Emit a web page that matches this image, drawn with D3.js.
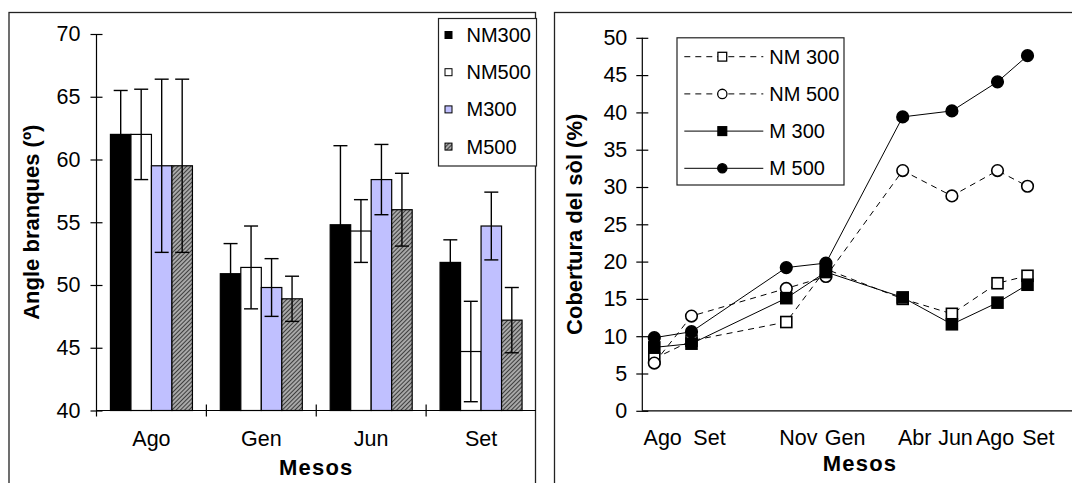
<!DOCTYPE html>
<meta charset="utf-8">
<style>
body { margin: 0; background: #fff; }
svg { font-family: "Liberation Sans", Arial, sans-serif; }
.axis path, .axis line { stroke: #000; stroke-width: 1.2px; }
.axis text { font-size: 21.5px; fill: #000; }
.title { font-size: 22px; font-weight: bold; }
.legend text { font-size: 20px; }
.panel { fill: none; stroke: #222; stroke-width: 1.3px; }
</style>
<body>
<script src="https://cdn.jsdelivr.net/npm/d3@7"></script>
<script>

// ---- left chart data (branch angle, mean and error) ----
var months = ["Ago", "Gen", "Jun", "Set"];
var treatments = ["NM300", "NM500", "M300", "M500"];
var nm300Angle = [62.0, 50.9, 54.8, 51.8];
var nm300Err   = [3.5, 2.4, 6.3, 1.8];
var nm500Angle = [62.0, 51.4, 54.3, 44.7];
var nm500Err   = [3.6, 3.3, 2.5, 4.0];
var m300Angle  = [59.5, 49.8, 58.4, 54.7];
var m300Err    = [6.9, 2.3, 2.8, 2.7];
var m500Angle  = [59.5, 48.9, 56.0, 47.2];
var m500Err    = [6.9, 1.8, 2.9, 2.6];
var angleTicks = [40, 45, 50, 55, 60, 65, 70];

// ---- right chart data (soil cover %) ----
var coverMonths = ["Ago", "Set", "Nov", "Gen", "Abr", "Jun", "Ago", "Set"];
var coverDay    = [0, 31, 110, 143, 207, 248, 286, 311];   // sampling day
var labelDay    = [7, 46, 120, 159, 217, 251, 284, 320];   // where the month text sits
var nm300Cover  = [7.0, 9.4, 11.9, 19.0, 15.0, 13.0, 17.1, 18.1];
var nm500Cover  = [6.4, 12.7, 16.4, 18.0, 32.2, 28.8, 32.2, 30.1];
var m300Cover   = [8.5, 9.0, 15.1, 18.6, 15.2, 11.6, 14.5, 16.9];
var m500Cover   = [9.8, 10.6, 19.2, 19.8, 39.4, 40.2, 44.1, 47.6];
var coverTicks  = [0, 5, 10, 15, 20, 25, 30, 35, 40, 45, 50];
var coverNames  = ["NM 300", "NM 500", "M 300", "M 500"];

var svg = d3.select("body").append("svg")
    .attr("width", 1072)
    .attr("height", 483);

// hatch for M500 bars
var defs = svg.append("defs");
var pat = defs.append("pattern")
    .attr("id", "hatch")
    .attr("patternUnits", "userSpaceOnUse")
    .attr("width", 3).attr("height", 3)
    .attr("patternTransform", "rotate(45)");
pat.append("rect").attr("width", 3).attr("height", 3).attr("fill", "#a8a8a8");
pat.append("line").attr("x1", 0).attr("y1", 0).attr("x2", 0).attr("y2", 3)
    .attr("stroke", "#222").attr("stroke-width", 1.6);

var barFill = ["#000", "#fff", "#c0c0ff", "url(#hatch)"];

// panel frames
svg.append("rect").attr("class", "panel").attr("x", 9).attr("y", 12.5).attr("width", 526.5).attr("height", 490);
svg.append("rect").attr("class", "panel").attr("x", 554.5).attr("y", 12.5).attr("width", 540).attr("height", 490);

// ================= left: bar chart =================
var L = {left: 96.5, right: 536, top: 34, bottom: 410.5};

var x0 = d3.scaleBand().domain(months).range([L.left, L.right]);
var x1 = d3.scaleBand().domain(treatments).range([0, x0.bandwidth()]).paddingOuter(0.68);
var yA = d3.scaleLinear().domain([40, 70]).range([L.bottom, L.top]);

var barData = [];
var means = [nm300Angle, nm500Angle, m300Angle, m500Angle];
var errs = [nm300Err, nm500Err, m300Err, m500Err];
months.forEach(function(m, i) {
  treatments.forEach(function(t, j) {
    barData.push({month: m, t: t, j: j, v: means[j][i], e: errs[j][i]});
  });
});

var left = svg.append("g");

left.selectAll("rect.bar")
    .data(barData)
  .enter().append("rect")
    .attr("class", "bar")
    .attr("x", function(d) { return x0(d.month) + x1(d.t); })
    .attr("width", x1.bandwidth())
    .attr("y", function(d) { return yA(d.v); })
    .attr("height", function(d) { return yA(40) - yA(d.v); })
    .attr("fill", function(d) { return barFill[d.j]; })
    .attr("stroke", "#000")
    .attr("stroke-width", 1.2);

// error bars
var eb = left.selectAll("g.err")
    .data(barData)
  .enter().append("g")
    .attr("class", "err")
    .attr("transform", function(d) { return "translate(" + (x0(d.month) + x1(d.t) + x1.bandwidth() / 2) + ",0)"; })
    .attr("stroke", "#000")
    .attr("stroke-width", 1.4);
eb.append("line")
    .attr("y1", function(d) { return yA(d.v - d.e); })
    .attr("y2", function(d) { return yA(d.v + d.e); });
eb.append("line").attr("x1", -7).attr("x2", 7)
    .attr("y1", function(d) { return yA(d.v + d.e); })
    .attr("y2", function(d) { return yA(d.v + d.e); });
eb.append("line").attr("x1", -7).attr("x2", 7)
    .attr("y1", function(d) { return yA(d.v - d.e); })
    .attr("y2", function(d) { return yA(d.v - d.e); });

// y axis
var ay = left.append("g")
    .attr("class", "axis")
    .attr("transform", "translate(" + L.left + ",0)")
    .call(d3.axisLeft(yA).tickValues(angleTicks).tickSize(6).tickPadding(10));
ay.selectAll(".tick line").attr("x2", 6).attr("x1", -6);
ay.select(".domain").attr("d", "M0," + L.top + "V" + (L.bottom + 6));

// x axis
var ax = left.append("g")
    .attr("class", "axis")
    .attr("transform", "translate(0," + L.bottom + ")")
    .call(d3.axisBottom(x0).tickSize(0).tickPadding(20.5));
ax.select(".domain").attr("d", "M" + L.left + ",0H" + L.right);
ax.selectAll("line.sep")
    .data(months.slice(1))
  .enter().append("line")
    .attr("class", "sep")
    .attr("x1", function(d) { return x0(d); })
    .attr("x2", function(d) { return x0(d); })
    .attr("y1", -6).attr("y2", 6);

left.append("text")
    .attr("class", "title")
    .attr("transform", "translate(31," + (L.top + L.bottom) / 2 + ") rotate(-90)")
    .attr("text-anchor", "middle")
    .attr("dy", "0.35em")
    .text("Angle branques (º)");

left.append("text")
    .attr("class", "title")
    .attr("x", (L.left + L.right) / 2)
    .attr("y", 475)
    .attr("text-anchor", "middle")
    .style("letter-spacing", "1.2px")
    .text("Mesos");

// legend
var lg = left.append("g").attr("class", "legend");
lg.append("rect")
    .attr("x", 438.5).attr("y", 18.5).attr("width", 98).attr("height", 147.5)
    .attr("fill", "#fff").attr("stroke", "#222").attr("stroke-width", 1.2);
var lgItem = lg.selectAll("g.item")
    .data(treatments)
  .enter().append("g")
    .attr("class", "item")
    .attr("transform", function(d, i) { return "translate(445," + (35 + i * 37.2) + ")"; });
lgItem.append("rect")
    .attr("x", 0).attr("y", -3.5).attr("width", 7).attr("height", 7)
    .attr("fill", function(d, i) { return barFill[i]; })
    .attr("stroke", "#000").attr("stroke-width", 1);
lgItem.append("text")
    .attr("x", 21.5).attr("dy", "0.35em")
    .text(function(d) { return d; });

// ================= right: line chart =================
var R = {left: 642.3, top: 37.8, bottom: 410.8};

var xC = d3.scaleLinear().domain([-10, 350]).range([R.left, R.left + 360 * 1.2]);
var yC = d3.scaleLinear().domain([0, 50]).range([R.bottom, R.top]);

var right = svg.append("g");

var ayr = right.append("g")
    .attr("class", "axis")
    .attr("transform", "translate(" + R.left + ",0)")
    .call(d3.axisLeft(yC).tickValues(coverTicks).tickSize(6).tickPadding(9));
ayr.selectAll(".tick line").attr("x2", 6).attr("x1", -6);
ayr.select(".domain").attr("d", "M0," + R.top + "V" + R.bottom);

var axr = right.append("g")
    .attr("class", "axis")
    .attr("transform", "translate(0," + R.bottom + ")");
axr.append("path").attr("class", "domain")
    .attr("d", "M" + R.left + ",0H1072");
axr.selectAll("text")
    .data(coverMonths)
  .enter().append("text")
    .attr("x", function(d, i) { return xC(labelDay[i]); })
    .attr("y", 34)
    .attr("text-anchor", "middle")
    .text(function(d) { return d; });

right.append("text")
    .attr("class", "title")
    .attr("transform", "translate(574," + (R.top + R.bottom) / 2 + ") rotate(-90)")
    .attr("text-anchor", "middle")
    .attr("dy", "0.35em")
    .text("Cobertura del sòl (%)");

right.append("text")
    .attr("class", "title")
    .attr("x", 860)
    .attr("y", 471)
    .attr("text-anchor", "middle")
    .style("letter-spacing", "1.2px")
    .text("Mesos");

var coverSeries = [
  {name: coverNames[0], v: nm300Cover, dash: "6,5", shape: "square", fill: "#fff"},
  {name: coverNames[1], v: nm500Cover, dash: "6,5", shape: "circle", fill: "#fff"},
  {name: coverNames[2], v: m300Cover, dash: null, shape: "square", fill: "#000"},
  {name: coverNames[3], v: m500Cover, dash: null, shape: "circle", fill: "#000"}
];

var line = d3.line()
    .x(function(d, i) { return xC(coverDay[i]); })
    .y(function(d) { return yC(d); });

function marker(g, s) {
  if (s.shape === "square") {
    g.append("rect").attr("x", -5.5).attr("y", -5.5).attr("width", 11).attr("height", 11)
      .attr("fill", s.fill).attr("stroke", "#000").attr("stroke-width", 1.6);
  } else {
    g.append("circle").attr("r", 5.8)
      .attr("fill", s.fill).attr("stroke", "#000").attr("stroke-width", 1.6);
  }
}

coverSeries.forEach(function(s) {
  var g = right.append("g");
  g.append("path")
      .datum(s.v)
      .attr("d", line)
      .attr("fill", "none")
      .attr("stroke", "#000")
      .attr("stroke-width", 1)
      .attr("stroke-dasharray", s.dash);
  g.selectAll("g.pt")
      .data(s.v)
    .enter().append("g")
      .attr("class", "pt")
      .attr("transform", function(d, i) { return "translate(" + xC(coverDay[i]) + "," + yC(d) + ")"; })
      .each(function() { marker(d3.select(this), s); });
});

// legend
var lr = right.append("g").attr("class", "legend");
lr.append("rect")
    .attr("x", 677).attr("y", 37.8).attr("width", 167).attr("height", 147.2)
    .attr("fill", "#fff").attr("stroke", "#222").attr("stroke-width", 1.2);
var lrItem = lr.selectAll("g.item")
    .data(coverSeries)
  .enter().append("g")
    .attr("class", "item")
    .attr("transform", function(d, i) { return "translate(722.3," + (56.7 + i * 37.2) + ")"; });
lrItem.append("line")
    .attr("x1", -38).attr("x2", 41)
    .attr("stroke", "#000").attr("stroke-width", 1)
    .attr("stroke-dasharray", function(d) { return d.dash; });
lrItem.each(function(d) {
  var g = d3.select(this).append("g").attr("transform", "scale(0.8)");
  marker(g, d);
});
lrItem.append("text")
    .attr("x", 47).attr("dy", "0.35em")
    .text(function(d) { return d.name; });

</script>
</body>
